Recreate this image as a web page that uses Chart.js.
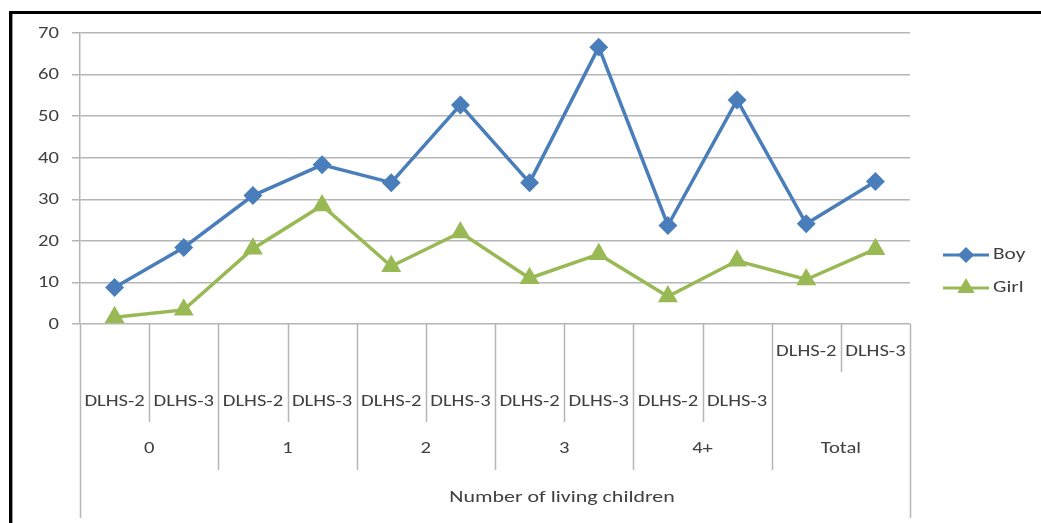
<!DOCTYPE html>
<html>
<head>
<meta charset="utf-8">
<script src="https://cdn.jsdelivr.net/npm/chart.js@4/dist/chart.umd.min.js"></script>
<style>
  html, body { margin: 0; padding: 0; background: #ffffff; }
  #wrap { width: 1041px; height: 523px; position: relative; }
</style>
</head>
<body>
<div id="wrap"><canvas id="c" width="1041" height="523"></canvas></div>
<script>
// ---- Data ----
const groups = ['0', '1', '2', '3', '4+', 'Total'];
const surveys = ['DLHS-2', 'DLHS-3'];
const categories = ['0|DLHS-2','0|DLHS-3','1|DLHS-2','1|DLHS-3','2|DLHS-2','2|DLHS-3','3|DLHS-2','3|DLHS-3','4+|DLHS-2','4+|DLHS-3','Total|DLHS-2','Total|DLHS-3'];
const boyValues  = [8.8, 18.4, 30.9, 38.3, 34.0, 52.7, 34.0, 66.6, 23.7, 53.9, 24.1, 34.3];
const girlValues = [1.6, 3.4, 18.1, 28.5, 13.9, 22.0, 11.0, 16.8, 6.6, 15.2, 10.7, 18.0];
const yTicks = [0, 10, 20, 30, 40, 50, 60, 70];
const axisTitle = 'Number of living children';

const FONT = "Carlito, Calibri, Lato, 'Open Sans', sans-serif";
const TEXT = '#404040';
const GRID = '#b5b5b5';
const BOY = '#4a7ebb';
const GIRL = '#98b954';
const SX = 1.33; // the original picture is stretched horizontally

function stretchedText(ctx, str, x, y, align) {
  ctx.save();
  ctx.translate(x, y);
  ctx.scale(SX, 1);
  ctx.textAlign = align;
  ctx.fillText(str, 0, 0);
  ctx.restore();
}

const hierarchyPlugin = {
  id: 'hierarchy',
  beforeDraw(chart) {
    const ctx = chart.ctx;
    ctx.save();
    ctx.fillStyle = '#000';
    ctx.fillRect(9, 11, 1041 - 9, 3);
    ctx.fillRect(9, 11, 3, 523 - 11);
    ctx.fillStyle = '#9a9a9a';
    ctx.fillRect(12, 14, 1, 523 - 14);
    ctx.restore();
  },
  afterDraw(chart) {
    const ctx = chart.ctx;
    const x = chart.scales.x;
    const yS = chart.scales.y;
    const area = chart.chartArea;
    const b = area.bottom;
    const n = categories.length;
    const centers = categories.map((_, i) => x.getPixelForValue(i));
    const step = n > 1 ? centers[1] - centers[0] : area.right - area.left;
    const bound = k => centers[0] - step / 2 + k * step;
    ctx.save();
    ctx.strokeStyle = GRID;
    ctx.lineWidth = 1.5;
    const line = (px, y1, y2) => {
      ctx.beginPath();
      ctx.moveTo(Math.round(px) + 0.5, y1);
      ctx.lineTo(Math.round(px) + 0.5, y2);
      ctx.stroke();
    };
    const lastGroup = groups.length - 1;
    for (let k = 0; k <= n; k++) {
      const px = bound(k);
      if (k === 0 || k === n) { line(px, b, 518); continue; }
      if (k % 2 === 0) { line(px, b, 470); continue; }
      const g = (k - 1) / 2;
      line(px, b, g === lastGroup ? 372 : 422);
    }
    ctx.fillStyle = TEXT;
    ctx.textBaseline = 'middle';
    // y tick labels
    ctx.font = '15.5px ' + FONT;
    yTicks.forEach(v => stretchedText(ctx, String(v), area.left - 21, yS.getPixelForValue(v) + 1, 'right'));
    // survey labels
    ctx.font = '15.5px ' + FONT;
    categories.forEach((c, i) => {
      const g = Math.floor(i / 2);
      const s = surveys[i % 2];
      const y = g === lastGroup ? 352 : 402;
      stretchedText(ctx, s, centers[i], y, 'center');
    });
    // group labels
    groups.forEach((g, j) => {
      const cx = (bound(2 * j) + bound(2 * j + 2)) / 2;
      stretchedText(ctx, g, cx, 449, 'center');
    });
    // axis title
    ctx.font = '16.5px ' + FONT;
    stretchedText(ctx, axisTitle, 562, 498, 'center');

    // legend
    const items = [
      { label: 'Boy', color: BOY, style: 'rectRot', r: 6, y: 255 },
      { label: 'Girl', color: GIRL, style: 'triangle', r: 7, y: 288 }
    ];
    items.forEach(it => {
      ctx.strokeStyle = it.color;
      ctx.lineWidth = 3;
      ctx.beginPath();
      ctx.moveTo(943, it.y);
      ctx.lineTo(989, it.y);
      ctx.stroke();
      Chart.helpers.drawPoint(ctx, { pointStyle: it.style, radius: it.r, borderWidth: 1, rotation: 0 }, 966, it.y);
      ctx.fillStyle = it.color;
      ctx.strokeStyle = it.color;
      ctx.fill();
      ctx.fillStyle = TEXT;
      ctx.font = '16px ' + FONT;
      stretchedText(ctx, it.label, 993, it.y, 'left');
    });
    ctx.restore();
  }
};

new Chart(document.getElementById('c'), {
  type: 'line',
  data: {
    labels: categories,
    datasets: [
      {
        label: 'Boy', data: boyValues,
        borderColor: BOY, backgroundColor: BOY, borderWidth: 3.5,
        pointStyle: 'rectRot', pointRadius: 7, pointHoverRadius: 7,
        pointBackgroundColor: BOY, pointBorderColor: BOY, tension: 0
      },
      {
        label: 'Girl', data: girlValues,
        borderColor: GIRL, backgroundColor: GIRL, borderWidth: 3.5,
        pointStyle: 'triangle', pointRadius: 8, pointHoverRadius: 8,
        pointBackgroundColor: GIRL, pointBorderColor: GIRL, tension: 0
      }
    ]
  },
  options: {
    responsive: false,
    animation: false,
    layout: { padding: { top: 33, right: 131, bottom: 199, left: 0 } },
    plugins: { legend: { display: false }, tooltip: { enabled: false } },
    scales: {
      x: { type: 'category', offset: true, display: false },
      y: {
        min: 0, max: 70,
        afterFit(scale) { scale.width = 80; },
        afterBuildTicks(scale) { scale.ticks = yTicks.map(v => ({ value: v })); },
        ticks: { display: false, stepSize: 10 },
        grid: { color: GRID, lineWidth: 1.5, tickLength: 8, tickColor: GRID, drawTicks: true },
        border: { color: GRID, width: 1.5 }
      }
    }
  },
  plugins: [hierarchyPlugin]
});
</script>
</body>
</html>
